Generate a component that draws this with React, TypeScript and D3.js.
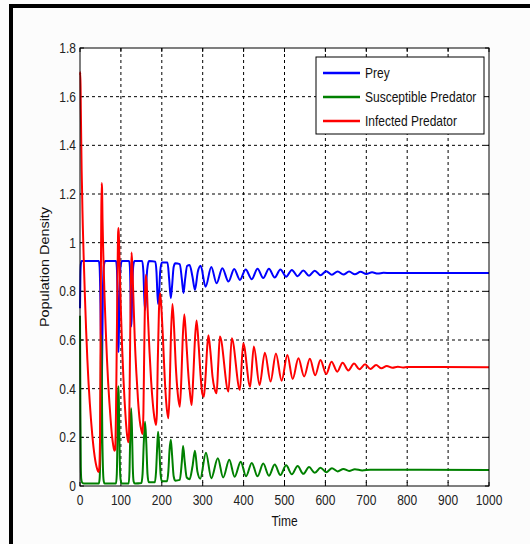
import React from "react";
import * as d3 from "d3";

const xTicks = [0, 100, 200, 300, 400, 500, 600, 700, 800, 900, 1000];
const yTicks = [0, 0.2, 0.4, 0.6, 0.8, 1, 1.2, 1.4, 1.6, 1.8];
const yTickLabels = ["0", "0.2", "0.4", "0.6", "0.8", "1", "1.2", "1.4", "1.6", "1.8"];
const seriesNames = ["Prey", "Susceptible Predator", "Infected Predator"];
const seriesColors = ["#0000ff", "#008000", "#ff0000"];

const prey: [number, number][] = [
  [0, 0.73], [1, 0.86], [2, 0.91], [4, 0.925], [46, 0.925], [48, 0.9], [50, 0.75], [52, 0.5], [53, 0.38], [54, 0.5],
  [56, 0.8], [58, 0.9], [60, 0.92], [62, 0.925], [88, 0.925], [90, 0.9], [92, 0.75], [93, 0.6], [94, 0.55], [95, 0.62],
  [97, 0.8], [99, 0.9], [101, 0.92], [103, 0.925], [120, 0.925], [122, 0.9], [124, 0.75], [125, 0.655], [126, 0.68],
  [128, 0.82], [130, 0.9], [133, 0.925], [152, 0.925], [155, 0.88], [157, 0.78], [159, 0.723], [161, 0.76], [163, 0.86],
  [166, 0.91], [169, 0.925], [184, 0.922], [187, 0.88], [189, 0.8], [191, 0.748], [193, 0.78], [196, 0.88], [200, 0.918],
  [214, 0.918], [218, 0.85], [222, 0.772], [225, 0.82], [229, 0.9], [233, 0.915], [244, 0.912], [249, 0.85], [253, 0.793],
  [257, 0.85], [262, 0.905], [268, 0.908], [275, 0.86], [281, 0.806], [288, 0.88], [295, 0.905], [307, 0.819],
  [321, 0.9], [334, 0.833], [348, 0.895], [363, 0.84], [377, 0.892], [391, 0.847], [405, 0.89], [420, 0.85],
  [434, 0.893], [448, 0.855], [462, 0.893], [476, 0.857], [490, 0.89], [504, 0.86], [518, 0.888], [532, 0.862],
  [546, 0.886], [560, 0.864], [574, 0.885], [588, 0.866], [602, 0.883], [616, 0.868], [630, 0.882], [644, 0.869],
  [658, 0.881], [672, 0.87], [686, 0.88], [700, 0.871], [714, 0.878], [728, 0.873], [742, 0.876], [760, 0.875],
  [1000, 0.875],
];

const susceptible: [number, number][] = [
  [0, 0.7], [1, 0.3], [2, 0.08], [3, 0.03], [5, 0.015], [10, 0.01], [46, 0.01], [48, 0.03], [50, 0.2], [51, 0.5],
  [52, 0.62], [53, 0.55], [54, 0.3], [56, 0.08], [58, 0.02], [60, 0.01], [88, 0.01], [90, 0.05], [92, 0.25], [93, 0.38],
  [94, 0.41], [95, 0.35], [97, 0.12], [99, 0.03], [102, 0.01], [119, 0.01], [121, 0.06], [123, 0.22], [125, 0.32],
  [127, 0.24], [129, 0.08], [131, 0.02], [134, 0.01], [150, 0.012], [153, 0.05], [156, 0.18], [159, 0.264], [162, 0.18],
  [165, 0.05], [168, 0.015], [183, 0.015], [186, 0.06], [189, 0.17], [191, 0.223], [194, 0.15], [197, 0.05], [200, 0.02],
  [213, 0.02], [216, 0.06], [219, 0.15], [222, 0.19], [225, 0.13], [229, 0.04], [233, 0.022], [244, 0.025], [249, 0.1],
  [252, 0.164], [256, 0.1], [261, 0.035], [268, 0.028], [275, 0.08], [281, 0.145], [287, 0.06], [294, 0.03],
  [308, 0.137], [321, 0.032], [337, 0.114], [350, 0.035], [365, 0.108], [378, 0.038], [393, 0.1], [406, 0.04],
  [420, 0.095], [434, 0.04], [448, 0.092], [462, 0.042], [476, 0.088], [490, 0.045], [504, 0.085], [518, 0.048],
  [532, 0.082], [546, 0.05], [560, 0.078], [574, 0.054], [588, 0.075], [602, 0.057], [616, 0.073], [630, 0.06],
  [644, 0.07], [658, 0.062], [672, 0.069], [690, 0.064], [710, 0.067], [1000, 0.066],
];

const infected: [number, number][] = [
  [0, 1.69], [1, 1.7], [2, 1.55], [3, 1.42], [4, 1.3], [5, 1.22], [6, 1.13], [7, 1.06], [9, 0.94], [12, 0.78],
  [15, 0.64], [18, 0.52], [21, 0.42], [24, 0.34], [27, 0.27], [30, 0.21], [33, 0.16], [36, 0.12], [39, 0.09], [42, 0.07],
  [45, 0.058], [47, 0.07], [49, 0.2], [50, 0.5], [51, 0.85], [52, 1.1], [53, 1.245], [54, 1.22], [55, 1.1], [57, 0.95],
  [60, 0.78], [63, 0.64], [66, 0.52], [69, 0.42], [72, 0.34], [75, 0.27], [78, 0.21], [81, 0.17], [84, 0.145], [86, 0.15],
  [88, 0.3], [90, 0.6], [92, 0.9], [93, 1.03], [94, 1.06], [95, 1.03], [97, 0.9], [100, 0.72], [103, 0.57], [106, 0.45],
  [109, 0.35], [112, 0.27], [115, 0.21], [118, 0.18], [120, 0.22], [122, 0.5], [124, 0.8], [126, 0.96], [128, 0.9],
  [131, 0.75], [134, 0.6], [138, 0.46], [142, 0.35], [146, 0.27], [150, 0.23], [153, 0.214], [155, 0.3], [157, 0.55],
  [159, 0.78], [161, 0.867], [163, 0.83], [166, 0.7], [170, 0.55], [174, 0.43], [178, 0.34], [182, 0.28], [186, 0.251],
  [188, 0.3], [190, 0.5], [193, 0.72], [196, 0.792], [199, 0.73], [203, 0.6], [207, 0.45], [211, 0.34], [216, 0.278],
  [219, 0.38], [222, 0.6], [226, 0.748], [230, 0.65], [234, 0.5], [239, 0.38], [244, 0.326], [248, 0.45], [251, 0.6],
  [255, 0.706], [259, 0.62], [264, 0.48], [269, 0.38], [273, 0.333], [277, 0.45], [281, 0.6], [285, 0.68], [290, 0.58],
  [295, 0.45], [299, 0.38], [303, 0.367], [307, 0.45], [311, 0.57], [314, 0.62], [319, 0.55], [324, 0.45], [329, 0.4],
  [334, 0.381], [338, 0.5], [342, 0.614], [363, 0.388], [371, 0.607], [391, 0.395], [399, 0.587], [416, 0.408],
  [425, 0.573], [439, 0.415], [452, 0.548], [466, 0.429], [479, 0.545], [493, 0.433], [507, 0.538], [520, 0.44],
  [534, 0.525], [548, 0.45], [562, 0.523], [575, 0.455], [588, 0.518], [602, 0.46], [615, 0.511], [629, 0.47],
  [642, 0.507], [656, 0.475], [670, 0.503], [683, 0.48], [697, 0.5], [710, 0.481], [724, 0.497], [737, 0.484],
  [750, 0.493], [764, 0.486], [777, 0.49], [790, 0.487], [800, 0.489], [1000, 0.488],
];

const allSeries = [prey, susceptible, infected];

const W = 530;
const H = 544;
const left = 80, right = 489, top = 48, bottom = 486;
const FONT = "'Liberation Sans', Arial, sans-serif";

export default function App() {
  const x = d3.scaleLinear().domain([0, 1000]).range([left, right]);
  const y = d3.scaleLinear().domain([0, 1.8]).range([bottom, top]);
  const line = d3
    .line<[number, number]>()
    .x((d) => x(d[0]))
    .y((d) => y(d[1]))
    .curve(d3.curveMonotoneX);

  const lgX = 316, lgY = 57, lgW = 168, lgH = 77;

  return (
    <svg
      width={W}
      height={H}
      style={{ position: "absolute", left: 0, top: 0, background: "#fcfcfc" }}
      fontFamily={FONT}
    >
      <rect x={0} y={0} width={W} height={H} fill="#fcfcfc" />
      {/* frame */}
      <rect x={9} y={4} width={W - 9} height={4} fill="#000" />
      <rect x={9} y={4} width={4} height={H - 4} fill="#000" />
      <rect x={left} y={top} width={right - left} height={bottom - top} fill="#fff" />
      {/* grid */}
      {xTicks.slice(1, -1).map((t) => (
        <line key={"gx" + t} x1={x(t)} x2={x(t)} y1={top} y2={bottom} stroke="#000" strokeWidth={1} strokeDasharray="3,3" />
      ))}
      {yTicks.slice(1, -1).map((t) => (
        <line key={"gy" + t} x1={left} x2={right} y1={y(t)} y2={y(t)} stroke="#000" strokeWidth={1} strokeDasharray="3,3" />
      ))}
      {/* ticks */}
      {xTicks.map((t) => (
        <g key={"tx" + t}>
          <line x1={x(t)} x2={x(t)} y1={bottom} y2={bottom - 4} stroke="#000" />
          <line x1={x(t)} x2={x(t)} y1={top} y2={top + 4} stroke="#000" />
        </g>
      ))}
      {yTicks.map((t) => (
        <g key={"ty" + t}>
          <line x1={left} x2={left + 4} y1={y(t)} y2={y(t)} stroke="#000" />
          <line x1={right} x2={right - 4} y1={y(t)} y2={y(t)} stroke="#000" />
        </g>
      ))}
      {/* series */}
      {allSeries.map((s, i) => (
        <path key={"s" + i} d={line(s) || ""} fill="none" stroke={seriesColors[i]} strokeWidth={2} strokeLinejoin="round" />
      ))}
      <rect x={left} y={top} width={right - left} height={bottom - top} fill="none" stroke="#000" strokeWidth={1} />
      {/* tick labels */}
      {xTicks.map((t) => (
        <text key={"lx" + t} transform={`translate(${x(t)},${bottom + 19}) scale(1,1.2)`} textAnchor="middle" fontSize={12} fill="#222">
          {t}
        </text>
      ))}
      {yTicks.map((t, i) => (
        <text key={"ly" + t} transform={`translate(${left - 4},${y(t) + 5}) scale(1,1.2)`} textAnchor="end" fontSize={12} fill="#222">
          {yTickLabels[i]}
        </text>
      ))}
      <text transform={`translate(${(left + right) / 2},${bottom + 40}) scale(1,1.2)`} textAnchor="middle" fontSize={12} fill="#111">
        Time
      </text>
      <text transform={`translate(49,${(top + bottom) / 2}) rotate(-90) scale(1.2,1)`} textAnchor="middle" fontSize={12} fill="#111">
        Population Density
      </text>
      {/* legend */}
      <rect x={lgX} y={lgY} width={lgW} height={lgH} fill="#fff" stroke="#000" strokeWidth={1} />
      {seriesNames.map((n, i) => (
        <g key={"lg" + i}>
          <line x1={lgX + 7} x2={lgX + 44} y1={lgY + 16 + i * 24} y2={lgY + 16 + i * 24} stroke={seriesColors[i]} strokeWidth={2.5} />
          <text transform={`translate(${lgX + 49},${lgY + 21 + i * 24}) scale(1,1.2)`} fontSize={12} fill="#111">
            {n}
          </text>
        </g>
      ))}
    </svg>
  );
}
